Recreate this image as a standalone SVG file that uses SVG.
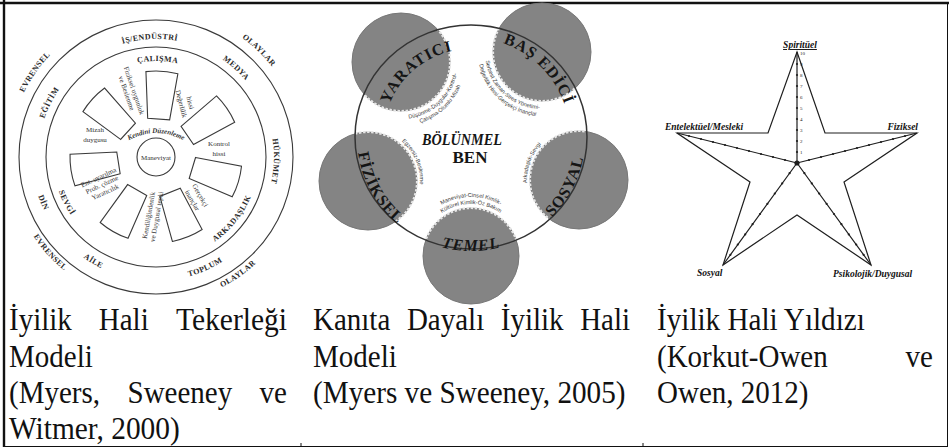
<svg xmlns="http://www.w3.org/2000/svg" width="949" height="448" viewBox="0 0 949 448">
<defs>
<style>
.cap{font-family:"Liberation Serif","Times New Roman",serif;font-size:32px;fill:#111}
.wl{font-family:"Liberation Serif","Times New Roman",serif;font-size:8px;font-weight:bold;fill:#2a2a2a;letter-spacing:0.4px}
.ws{font-family:"Liberation Serif","Times New Roman",serif;font-size:7px;fill:#333}
.wline{fill:none;stroke:#3a3a3a;stroke-width:1.1}
.gc{fill:#848484;stroke:#777;stroke-width:1}
.gedge{fill:none;stroke:#e6e6e6;stroke-width:2.2;stroke-dasharray:2.5 1.6}
.gl{font-family:"Liberation Serif","Times New Roman",serif;font-size:16px;font-weight:bold;fill:#151515;letter-spacing:1px}
.gs{font-family:"Liberation Sans",Arial,sans-serif;font-size:5.6px;fill:#3a3a3a}
.sl{font-family:"Liberation Serif","Times New Roman",serif;font-size:9.5px;font-weight:bold;font-style:italic;fill:#111}
.sn{font-family:"Liberation Serif","Times New Roman",serif;font-size:5px;fill:#222}
.sline{fill:none;stroke:#1e1e1e;stroke-width:1.2}
.dot{fill:#1e1e1e}
.bord{stroke:#111;fill:none}
</style>
<path id="wcw118" d="M38,157 A118,118 0 1 1 274,157 A118,118 0 1 1 38,157"/>
<path id="wcw96" d="M60,157 A96,96 0 1 1 252,157 A96,96 0 1 1 60,157"/>
<path id="wcw147" d="M9,157 A147,147 0 1 1 303,157 A147,147 0 1 1 9,157"/>
<path id="wccw124" d="M32,157 A124,124 0 1 0 280,157 A124,124 0 1 0 32,157"/>
<path id="wccw103" d="M53,157 A103,103 0 1 0 259,157 A103,103 0 1 0 53,157"/>
<path id="wccw146" d="M10,157 A146,146 0 1 0 302,157 A146,146 0 1 0 10,157"/>
<path id="kd" d="M124,143 Q156,123 188,143"/>
<path id="box" d="M-11,-38 L-16,-84.5 A86,86 0 0 1 16,-84.5 L11,-38 Z"/>
<path id="mcw88" d="M383,137 A88,88 0 1 1 559,137 A88,88 0 1 1 383,137"/>
<path id="mcw99" d="M372,137 A99,99 0 1 1 570,137 A99,99 0 1 1 372,137"/>
<path id="mccw114" d="M357,137 A114,114 0 1 0 585,137 A114,114 0 1 0 357,137"/>
<path id="yc57" d="M344,62 A57,57 0 1 0 458,62 A57,57 0 1 0 344,62"/>
<path id="yc64" d="M337,62 A64,64 0 1 0 465,62 A64,64 0 1 0 337,62"/>
<path id="bc57" d="M599,52 A57,57 0 1 0 485,52 A57,57 0 1 0 599,52"/>
<path id="bc64" d="M606,52 A64,64 0 1 0 478,52 A64,64 0 1 0 606,52"/>
<path id="fc52" d="M316,181 A52,52 0 1 1 420,181 A52,52 0 1 1 316,181"/>
<path id="sc52" d="M631,180 A52,52 0 1 1 527,180 A52,52 0 1 1 631,180"/>
<path id="tc52" d="M419,256 A52,52 0 1 1 523,256 A52,52 0 1 1 419,256"/>
<path id="tc59" d="M412,256 A59,59 0 1 1 530,256 A59,59 0 1 1 412,256"/>
<clipPath id="bigc"><ellipse cx="471" cy="137" rx="116" ry="112"/></clipPath>
</defs>

<rect x="0" y="0" width="949" height="448" fill="#fff"/>

<g id="frame">
<line class="bord" x1="0" y1="3" x2="949" y2="3" stroke-width="2.6"/>
<line class="bord" x1="4" y1="0" x2="4" y2="447" stroke-width="2.4"/>
<line class="bord" x1="947.5" y1="3" x2="947.5" y2="447" stroke-width="1" stroke="#444"/>
<line class="bord" x1="3" y1="446.5" x2="948" y2="446.5" stroke-width="1" stroke="#444"/>
<line class="bord" x1="301" y1="443" x2="301" y2="447" stroke-width="1" stroke="#444"/>
<line class="bord" x1="643" y1="443" x2="643" y2="447" stroke-width="1" stroke="#444"/>
</g>

<g id="wheel">
<circle class="wline" cx="156" cy="157" r="137"/>
<circle class="wline" cx="156" cy="157" r="110"/>
<circle class="wline" cx="156" cy="157" r="19"/>
<g class="wline">
<use href="#box" transform="translate(156,157) rotate(4)"/>
<use href="#box" transform="translate(156,157) rotate(55.43)"/>
<use href="#box" transform="translate(156,157) rotate(106.86)"/>
<use href="#box" transform="translate(156,157) rotate(158.29)"/>
<use href="#box" transform="translate(156,157) rotate(209.71)"/>
<use href="#box" transform="translate(156,157) rotate(261.14)"/>
<use href="#box" transform="translate(156,157) rotate(312.57)"/>
</g>
<text class="wl" text-anchor="middle"><textPath href="#wcw118" startOffset="24.17%">İŞ/ENDÜSTRİ</textPath></text>
<text class="wl" text-anchor="middle"><textPath href="#wcw118" startOffset="36.67%">MEDYA</textPath></text>
<text class="wl" text-anchor="middle"><textPath href="#wcw118" startOffset="50.56%">HÜKÜMET</textPath></text>
<text class="wl" text-anchor="middle"><textPath href="#wcw118" startOffset="7.5%">EĞİTİM</textPath></text>
<text class="wl" text-anchor="middle"><textPath href="#wcw96" startOffset="25.28%">ÇALIŞMA</textPath></text>
<text class="wl" text-anchor="middle"><textPath href="#wcw147" startOffset="9.72%">EVRENSEL</textPath></text>
<text class="wl" text-anchor="middle"><textPath href="#wcw147" startOffset="37.22%">OLAYLAR</textPath></text>
<text class="wl" text-anchor="middle"><textPath href="#wccw124" startOffset="31.67%">TOPLUM</textPath></text>
<text class="wl" text-anchor="middle"><textPath href="#wccw124" startOffset="16.39%">AİLE</textPath></text>
<text class="wl" text-anchor="middle"><textPath href="#wccw124" startOffset="6.11%">DİN</textPath></text>
<text class="wl" text-anchor="middle"><textPath href="#wccw103" startOffset="39.17%">ARKADAŞLIK</textPath></text>
<text class="wl" text-anchor="middle"><textPath href="#wccw103" startOffset="7.5%">SEVGİ</textPath></text>
<text class="wl" text-anchor="middle"><textPath href="#wccw146" startOffset="11.67%">EVRENSEL</textPath></text>
<text class="wl" text-anchor="middle"><textPath href="#wccw146" startOffset="34.72%">OLAYLAR</textPath></text>
<text class="ws" text-anchor="middle" font-weight="bold" font-style="italic" font-size="6.8"><textPath href="#kd" startOffset="50%">Kendini Düzenleme</textPath></text>
<text class="ws" x="156" y="160" text-anchor="middle" font-size="8">Maneviyat</text>
<text class="ws" text-anchor="middle" transform="translate(181,104) rotate(75)" x="0" y="2">Değerlilik</text>
<text class="ws" text-anchor="middle" transform="translate(190,103) rotate(75)" x="0" y="2">hissi</text>
<text class="ws" x="219" y="146" text-anchor="middle" font-size="7.5">Kontrol</text>
<text class="ws" x="219" y="156" text-anchor="middle" font-size="7.5">hissi</text>
<text class="ws" text-anchor="middle" transform="translate(200,195.5) rotate(60)" y="2">Gerçekçi</text>
<text class="ws" text-anchor="middle" transform="translate(192,200.5) rotate(60)" y="2">inançlar</text>
<text class="ws" text-anchor="middle" transform="translate(149,215.3) rotate(-80)" y="2">Kendiliğindenlik</text>
<text class="ws" text-anchor="middle" transform="translate(157,216.7) rotate(-80)" y="2">ve Duygusal tepki</text>
<text class="ws" text-anchor="middle" transform="translate(98.6,177.7) rotate(-25)" y="2">Ent. uyarılma</text>
<text class="ws" text-anchor="middle" transform="translate(102,185) rotate(-25)" y="2">Prob. çözme</text>
<text class="ws" text-anchor="middle" transform="translate(105.4,192.3) rotate(-25)" y="2">Yaratıcılık</text>
<text class="ws" x="95" y="132" text-anchor="middle" font-size="7.5">Mizah</text>
<text class="ws" x="95" y="142" text-anchor="middle" font-size="7.5">duygusu</text>
<text class="ws" text-anchor="middle" transform="translate(133.8,90.7) rotate(71)" y="2">Fiziksel uygunluk</text>
<text class="ws" text-anchor="middle" transform="translate(126.2,93.3) rotate(71)" y="2">ve Beslenme</text>
</g>

<g id="indivisible-self">
<g id="n-yaratici"><circle class="gc" cx="401" cy="62" r="49"/></g>
<g id="n-basedici"><circle class="gc" cx="542" cy="52" r="49"/></g>
<g id="n-fiziksel"><circle class="gc" cx="368" cy="181" r="49"/></g>
<g id="n-sosyal"><circle class="gc" cx="579" cy="180" r="49"/></g>
<g id="n-temel"><circle class="gc" cx="471" cy="256" r="48"/></g>
<g clip-path="url(#bigc)">
<circle class="gedge" cx="401" cy="62" r="49"/>
<circle class="gedge" cx="542" cy="52" r="49"/>
<circle class="gedge" cx="368" cy="181" r="49"/>
<circle class="gedge" cx="579" cy="180" r="49"/>
<circle class="gedge" cx="471" cy="256" r="48"/>
</g>
<ellipse cx="471" cy="137" rx="116" ry="112" fill="none" stroke="#333" stroke-width="1.5"/>
<text class="gl" text-anchor="middle"><textPath href="#mcw88" startOffset="13.89%">YARATICI</textPath></text>
<text class="gl" text-anchor="middle"><textPath href="#mcw99" startOffset="37.5%">BAŞ EDİCİ</textPath></text>
<text class="gl" text-anchor="middle"><textPath href="#mccw114" startOffset="8.06%">FİZİKSEL</textPath></text>
<text class="gl" text-anchor="middle"><textPath href="#mccw114" startOffset="42.36%">SOSYAL</textPath></text>
<text class="gl" text-anchor="middle" font-size="14" font-style="italic"><textPath href="#mccw114" startOffset="25%">TEMEL</textPath></text>
<text class="gs" text-anchor="middle"><textPath href="#yc57" startOffset="36.94%">Düşünme-Duygular-Kontrol-</textPath></text>
<text class="gs" text-anchor="middle"><textPath href="#yc64" startOffset="36.94%">Çalışma-Olumlu Mizah</textPath></text>
<text class="gs" text-anchor="middle"><textPath href="#bc57" startOffset="63.4%">Serbest Zaman-Stres Yönetimi-</textPath></text>
<text class="gs" text-anchor="middle"><textPath href="#bc64" startOffset="63.4%">Değerlilik Hissi-Gerçekçi İnançlar</textPath></text>
<text class="gs" text-anchor="middle"><textPath href="#fc52" startOffset="43.61%">Egzersiz-Beslenme</textPath></text>
<text class="gs" text-anchor="middle"><textPath href="#sc52" startOffset="55.56%">Arkadaşlık-Sevgi</textPath></text>
<text class="gs" text-anchor="middle"><textPath href="#tc59" startOffset="25%">Maneviyat-Cinsel Kimlik-</textPath></text>
<text class="gs" text-anchor="middle"><textPath href="#tc52" startOffset="25%">Kültürel Kimlik-Öz Bakım</textPath></text>
<text x="462" y="145" text-anchor="middle" font-family="Liberation Serif, Times New Roman, serif" font-size="17" font-weight="bold" font-style="italic" fill="#151515" textLength="80" lengthAdjust="spacingAndGlyphs">BÖLÜNMEL</text>
<text x="470" y="163" text-anchor="middle" font-family="Liberation Serif, Times New Roman, serif" font-size="17" font-weight="bold" fill="#151515">BEN</text>
</g>

<g id="star">
<polygon class="sline" points="797,52 825,133 917,133 844,182 871,265 797,215 723,265 750,182 677,133 768,133"/>
<path class="sline" stroke-width="1" d="M797,163 L797,52 M797,163 L677,133 M797,163 L917,133 M797,163 L723,265 M797,163 L871,265"/>
<circle class="dot" cx="797" cy="163" r="2.6"/>
<g class="dot">
<circle cx="797" cy="152" r="1.1"/><circle cx="797" cy="141" r="1.1"/><circle cx="797" cy="130" r="1.1"/><circle cx="797" cy="119" r="1.1"/><circle cx="797" cy="108" r="1.1"/><circle cx="797" cy="97" r="1.1"/><circle cx="797" cy="86" r="1.1"/><circle cx="797" cy="75" r="1.1"/><circle cx="797" cy="64" r="1.1"/>
<circle cx="785" cy="160" r="1.1"/><circle cx="773" cy="157" r="1.1"/><circle cx="761" cy="154" r="1.1"/><circle cx="749" cy="151" r="1.1"/><circle cx="737" cy="148" r="1.1"/><circle cx="725" cy="145" r="1.1"/><circle cx="713" cy="142" r="1.1"/><circle cx="701" cy="139" r="1.1"/><circle cx="689" cy="136" r="1.1"/>
<circle cx="809" cy="160" r="1.1"/><circle cx="821" cy="157" r="1.1"/><circle cx="833" cy="154" r="1.1"/><circle cx="845" cy="151" r="1.1"/><circle cx="857" cy="148" r="1.1"/><circle cx="869" cy="145" r="1.1"/><circle cx="881" cy="142" r="1.1"/><circle cx="893" cy="139" r="1.1"/><circle cx="905" cy="136" r="1.1"/>
<circle cx="789.6" cy="173.2" r="1.1"/><circle cx="782.2" cy="183.4" r="1.1"/><circle cx="774.8" cy="193.6" r="1.1"/><circle cx="767.4" cy="203.8" r="1.1"/><circle cx="760" cy="214" r="1.1"/><circle cx="752.6" cy="224.2" r="1.1"/><circle cx="745.2" cy="234.4" r="1.1"/><circle cx="737.8" cy="244.6" r="1.1"/><circle cx="730.4" cy="254.8" r="1.1"/>
<circle cx="804.4" cy="173.2" r="1.1"/><circle cx="811.8" cy="183.4" r="1.1"/><circle cx="819.2" cy="193.6" r="1.1"/><circle cx="826.6" cy="203.8" r="1.1"/><circle cx="834" cy="214" r="1.1"/><circle cx="841.4" cy="224.2" r="1.1"/><circle cx="848.8" cy="234.4" r="1.1"/><circle cx="856.2" cy="244.6" r="1.1"/><circle cx="863.6" cy="254.8" r="1.1"/>
</g>
<g class="sn">
<text x="800" y="153.8">1</text><text x="800" y="142.8">2</text><text x="800" y="131.8">3</text><text x="800" y="120.8">4</text><text x="800" y="109.8">5</text><text x="800" y="98.8">6</text><text x="800" y="87.8">7</text><text x="800" y="76.8">8</text><text x="800" y="65.8">9</text><text x="800" y="54.8">10</text>
</g>
<text class="sl" x="800" y="48" text-anchor="middle" text-decoration="underline">Spiritüel</text>
<text class="sl" x="665" y="130">Entelektüel/Mesleki</text>
<text class="sl" x="918" y="130" text-anchor="end">Fiziksel</text>
<text class="sl" x="697" y="276">Sosyal</text>
<text class="sl" x="833" y="277">Psikolojik/Duygusal</text>
</g>

<g id="captions" class="cap">
<text x="9" y="330" textLength="62.8" lengthAdjust="spacingAndGlyphs">İyilik</text>
<text x="98.8" y="330" textLength="49.9" lengthAdjust="spacingAndGlyphs">Hali</text>
<text x="176" y="330" textLength="111" lengthAdjust="spacingAndGlyphs">Tekerleği</text>
<text x="9" y="367" textLength="83.8" lengthAdjust="spacingAndGlyphs">Modeli</text>
<text x="9" y="403" textLength="91" lengthAdjust="spacingAndGlyphs">(Myers,</text>
<text x="127.5" y="403" textLength="104.7" lengthAdjust="spacingAndGlyphs">Sweeney</text>
<text x="259.6" y="403" textLength="27.4" lengthAdjust="spacingAndGlyphs">ve</text>
<text x="9" y="439" textLength="170.8" lengthAdjust="spacingAndGlyphs">Witmer, 2000)</text>

<text x="313" y="330" textLength="77.3" lengthAdjust="spacingAndGlyphs">Kanıta</text>
<text x="406.9" y="330" textLength="77.3" lengthAdjust="spacingAndGlyphs">Dayalı</text>
<text x="500.8" y="330" textLength="62.8" lengthAdjust="spacingAndGlyphs">İyilik</text>
<text x="580.2" y="330" textLength="49.9" lengthAdjust="spacingAndGlyphs">Hali</text>
<text x="313" y="367" textLength="83.8" lengthAdjust="spacingAndGlyphs">Modeli</text>
<text x="313" y="403" textLength="312.5" lengthAdjust="spacingAndGlyphs">(Myers ve Sweeney, 2005)</text>

<text x="657" y="330" textLength="207.8" lengthAdjust="spacingAndGlyphs">İyilik Hali Yıldızı</text>
<text x="657" y="367" textLength="170.7" lengthAdjust="spacingAndGlyphs">(Korkut-Owen</text>
<text x="905.6" y="367" textLength="27.4" lengthAdjust="spacingAndGlyphs">ve</text>
<text x="657" y="403" textLength="151.4" lengthAdjust="spacingAndGlyphs">Owen, 2012)</text>
</g>
</svg>
